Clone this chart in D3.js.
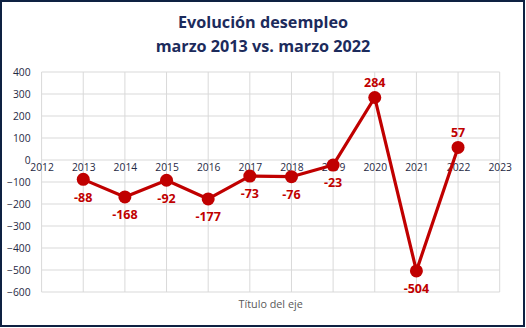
<!DOCTYPE html>
<html><head><meta charset="utf-8">
<script src="https://cdn.jsdelivr.net/npm/d3@7"></script>
<style>
html,body{margin:0;padding:0;background:#fff;}
svg{display:block;}
</style></head>
<body>
<script>
const years = [2013, 2014, 2015, 2016, 2017, 2018, 2019, 2020, 2021, 2022];
const values = [-88, -168, -92, -177, -73, -76, -23, 284, -504, 57];
const labelSide = ["below","below","below","below","below","below","below","above","below","above"];
const xTicks = [2012,2013,2014,2015,2016,2017,2018,2019,2020,2021,2022,2023];
const yTicks = [400,300,200,100,0,-100,-200,-300,-400,-500,-600];
const titleLines = ["Evolución desempleo", "marzo 2013 vs. marzo 2022"];
const axisTitle = "Título del eje";

const W = 526, H = 328;
const font = "'Open Sans', 'Noto Sans', sans-serif";
const svg = d3.select("body").append("svg").attr("width", W).attr("height", H);

svg.append("rect").attr("x",0).attr("y",0).attr("width",W).attr("height",H).attr("fill","#fff");
svg.append("rect").attr("x",1).attr("y",1).attr("width",W-3).attr("height",H-3)
  .attr("fill","none").attr("stroke","#0e2142").attr("stroke-width",2);

const x = d3.scaleLinear().domain([2012, 2023]).range([41.6, 499.7]);
const y = d3.scaleLinear().domain([-600, 400]).range([292, 72]);

// grid
const g = svg.append("g");
g.selectAll("line.v").data(xTicks).join("line")
  .attr("x1", d=>x(d)).attr("x2", d=>x(d)).attr("y1", y(400)).attr("y2", y(-600))
  .attr("stroke","#d9d9d9").attr("stroke-width",1);
g.selectAll("line.h").data(yTicks).join("line")
  .attr("x1", x(2012)).attr("x2", x(2023)).attr("y1", d=>y(d)).attr("y2", d=>y(d))
  .attr("stroke","#d9d9d9").attr("stroke-width",1);

// y axis labels
const yAxis = d3.axisLeft(y).tickValues(yTicks).tickSize(0).tickPadding(0).tickFormat(d3.format("d"));
const ya = svg.append("g").attr("transform",`translate(${x(2012)-11},0)`).call(yAxis);
ya.select(".domain").remove();
ya.selectAll("text").attr("font-family",font).attr("font-size","10.3px").attr("fill","#1f2a44");

// x axis labels at zero line
const xAxis = d3.axisBottom(x).tickValues(xTicks).tickSize(0).tickPadding(0).tickFormat(d3.format("d"));
const xa = svg.append("g").attr("transform",`translate(0,${y(0)+4})`).call(xAxis);
xa.select(".domain").remove();
xa.selectAll("text").attr("font-family",font).attr("font-size","10.3px").attr("fill","#1f2a44");

// line
const data = years.map((yr,i)=>({yr, v: values[i], side: labelSide[i]}));
svg.append("path").datum(data)
  .attr("d", d3.line().x(d=>x(d.yr)).y(d=>y(d.v)))
  .attr("fill","none").attr("stroke","#c00000").attr("stroke-width",3.2).attr("stroke-linejoin","round");
svg.selectAll("circle.pt").data(data).join("circle")
  .attr("cx", d=>x(d.yr)).attr("cy", d=>y(d.v)).attr("r", 6.5).attr("fill","#c00000");

svg.selectAll("text.lbl").data(data).join("text")
  .attr("x", d=>x(d.yr)).attr("y", d=>y(d.v) + (d.side==="above" ? -15 : 18))
  .attr("dy","0.35em").attr("text-anchor","middle")
  .attr("font-family",font).attr("font-size","12.5px").attr("font-weight","bold").attr("fill","#c00000")
  .text(d=>d.v);

// title
svg.selectAll("text.title").data(titleLines).join("text")
  .attr("x", W/2).attr("y",(d,i)=>28+i*24).attr("text-anchor","middle")
  .attr("font-family",font).attr("font-size","16.2px").attr("font-weight","bold").attr("fill","#1c2b5c")
  .text(d=>d);

// axis title
svg.append("text").attr("x",(x(2012)+x(2023))/2).attr("y",304).attr("dy","0.35em")
  .attr("text-anchor","middle").attr("font-family",font).attr("font-size","10.8px").attr("fill","#595959")
  .text(axisTitle);
</script>
</body></html>
